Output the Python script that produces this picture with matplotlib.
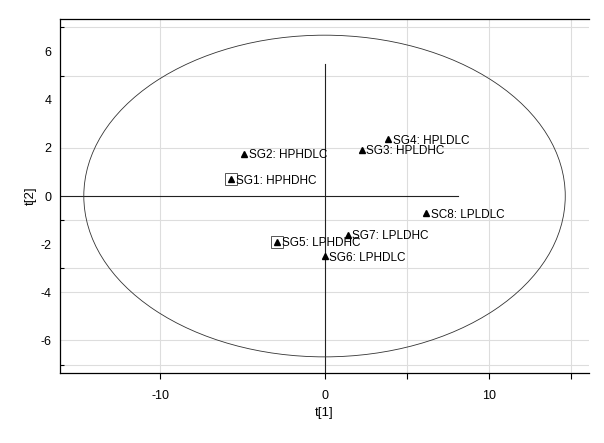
import numpy as np
import matplotlib
matplotlib.use('Agg')
import matplotlib.pyplot as plt
from matplotlib.patches import Ellipse

## DATA ##
names = ['SG1: HPHDHC', 'SG2: HPHDLC', 'SG3: HPLDHC', 'SG4: HPLDLC',
         'SG5: LPHDHC', 'SG6: LPHDLC', 'SG7: LPLDHC', 'SC8: LPLDLC']
t1 = [-5.7, -4.9, 2.25, 3.85, -2.9, 0.0, 1.4, 6.2]
t2 = [0.7, 1.75, 1.92, 2.35, -1.9, -2.5, -1.6, -0.72]
boxed = ['SG1: HPHDHC', 'SG5: LPHDHC']

# hotelling T2 ellipse half axes
ell_a = 14.65
ell_b = 6.68

xlim = (-16.1, 16.1)
ylim = (-7.35, 7.35)
x_ticks = [-10, 0, 5, 10, 15]
x_labels = ['-10', '0', '', '10', '']
y_ticks = [-6, -4, -2, 0, 2, 4, 6]
y_grid = [7, 5, 2, -1, -3, -4, -6, -7]
x_grid = [-10, 5, 10, 15]

plt.rcParams['font.family'] = ['Liberation Sans', 'DejaVu Sans']
plt.rcParams['axes.unicode_minus'] = False

fig = plt.figure(figsize=(6.04, 4.43), dpi=100)
ax = fig.add_axes([0.0993, 0.158, 0.876, 0.799])
ax.set_xlim(*xlim)
ax.set_ylim(*ylim)

# grid
for g in x_grid:
    ax.axvline(g, color='#dddddd', lw=0.8, zorder=0)
for g in y_grid:
    ax.axhline(g, color='#dddddd', lw=0.8, zorder=0)

# origin lines
ax.plot([xlim[0], 8.1], [0, 0], color='#222222', lw=0.8, zorder=1)
ax.plot([0, 0], [ylim[0], 5.5], color='#222222', lw=0.8, zorder=1)

ax.add_patch(Ellipse((0, 0), 2 * ell_a, 2 * ell_b, fill=False,
                     edgecolor='#333333', lw=0.6, zorder=2))

ax.plot(t1, t2, linestyle='none', marker='^', markersize=5,
        color='black', zorder=3)
for n, x, y in zip(names, t1, t2):
    ax.annotate(n, (x, y), xytext=(3.5, -1), textcoords='offset points',
                fontsize=8.5, va='center', ha='left', color='black')
    if n in boxed:
        ax.plot(x, y, marker='s', markersize=9, mfc='none', mec='#555555',
                mew=0.7, zorder=2)

ax.set_xticks(x_ticks)
ax.set_xticklabels(x_labels)
ax.set_yticks(y_ticks)
ax.set_yticks(y_grid, minor=True)
ax.tick_params(axis='x', direction='out', length=4, width=0.8, labelsize=9, pad=8)
ax.tick_params(axis='y', which='major', length=0, labelsize=9, pad=6)
ax.tick_params(axis='y', which='minor', direction='in', length=3, width=0.8)

ax.spines['right'].set_visible(False)
for s in ['top', 'bottom', 'left']:
    ax.spines[s].set_linewidth(0.9)

ax.set_xlabel('t[1]', fontsize=9.5, labelpad=4)
ax.set_ylabel('t[2]', fontsize=9.5, labelpad=3)

fig.savefig('out.png', dpi=100)
